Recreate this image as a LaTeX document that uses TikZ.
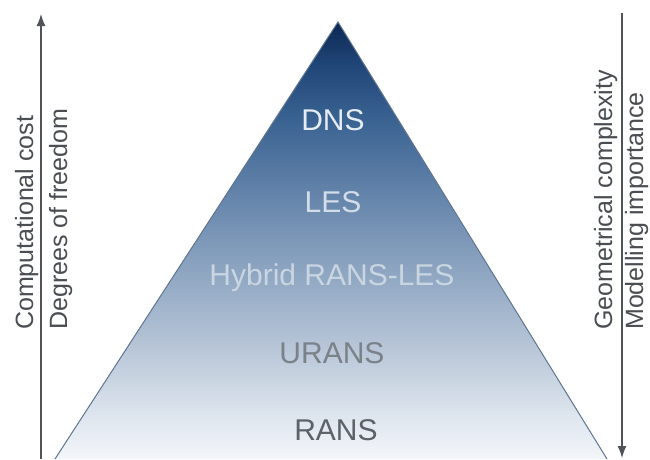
\documentclass[tikz,border=0pt]{standalone}
\usepackage{fontspec}
\setmainfont{Liberation Sans}
\usetikzlibrary{arrows.meta}

% colours of the pyramid, bottom to top
\definecolor{pyrA}{HTML}{F3F6FA}
\definecolor{pyrB}{HTML}{E0E7EF}
\definecolor{pyrC}{HTML}{B9C7D8}
\definecolor{pyrD}{HTML}{8DA5C1}
\definecolor{pyrE}{HTML}{6786AC}
\definecolor{pyrF}{HTML}{3A6392}
\definecolor{pyrG}{HTML}{1E4375}
\definecolor{pyrH}{HTML}{0B2650}
\definecolor{edgecol}{HTML}{5F7590}
\definecolor{axiscol}{HTML}{505358}
\definecolor{sidetext}{HTML}{4A4D52}
\definecolor{txtDNS}{HTML}{E6ECF4}
\definecolor{txtLES}{HTML}{D3DDE9}
\definecolor{txtHyb}{HTML}{CAD5E2}
\definecolor{txtURANS}{HTML}{7A8189}
\definecolor{txtRANS}{HTML}{5E6267}

\pgfdeclareverticalshading{pyramidfill}{100bp}{%
  color(0bp)=(pyrA); color(25bp)=(pyrA); color(29.45bp)=(pyrB);
  color(37.45bp)=(pyrC); color(46.6bp)=(pyrD); color(54.65bp)=(pyrE);
  color(63.8bp)=(pyrF); color(70.65bp)=(pyrG); color(75bp)=(pyrH);
  color(100bp)=(pyrH)}

\tikzset{
  level/.style={anchor=base, font=\fontsize{30}{36}\selectfont, inner sep=0pt},
  sidelabel/.style={anchor=base west, rotate=90, text=sidetext,
    font=\fontsize{25}{30}\selectfont, inner sep=0pt},
  axisarrow/.style={draw=axiscol, line width=1.3pt,
    -{Latex[length=12pt,width=9pt]}},
  pyramidedge/.style={draw=edgecol, line width=1pt}
}

\begin{document}
\begin{tikzpicture}[x=1pt, y=-1pt]
  \useasboundingbox (0,0) rectangle (650,459);
  \fill[white] (0,0) rectangle (650,459);

  % pyramid
  \coordinate (apex) at (338,22);
  \coordinate (bl) at (55,459);
  \coordinate (br) at (607,459);
  \shade[shading=pyramidfill] (bl) -- (apex) -- (br) -- cycle;
  \draw[pyramidedge] (bl) -- (apex) -- (br);

  % modelling levels
  \node[level, text=txtDNS]   (dns)    at (333,130) {DNS};
  \node[level, text=txtLES]   (les)    at (333,212) {LES};
  \node[level, text=txtHyb]   (hybrid) at (332,285) {Hybrid RANS-LES};
  \node[level, text=txtURANS] (urans)  at (332,363) {URANS};
  \node[level, text=txtRANS]  (rans)   at (336,440) {RANS};

  % left axis: cost grows upwards
  \coordinate (lbot) at (41,459);
  \coordinate (ltop) at (41,14);
  \draw[axisarrow] (lbot) -- (ltop);
  \node[sidelabel] (cost)    at (33,330) {Computational cost};
  \node[sidelabel] (freedom) at (67,330) {Degrees of freedom};

  % right axis: complexity grows downwards
  \coordinate (rtop) at (622,13);
  \coordinate (rbot) at (622,458);
  \draw[axisarrow] (rtop) -- (rbot);
  \node[sidelabel] (geom)  at (612,330) {Geometrical complexity};
  \node[sidelabel] (model) at (643,330) {Modelling importance};
\end{tikzpicture}
\end{document}
